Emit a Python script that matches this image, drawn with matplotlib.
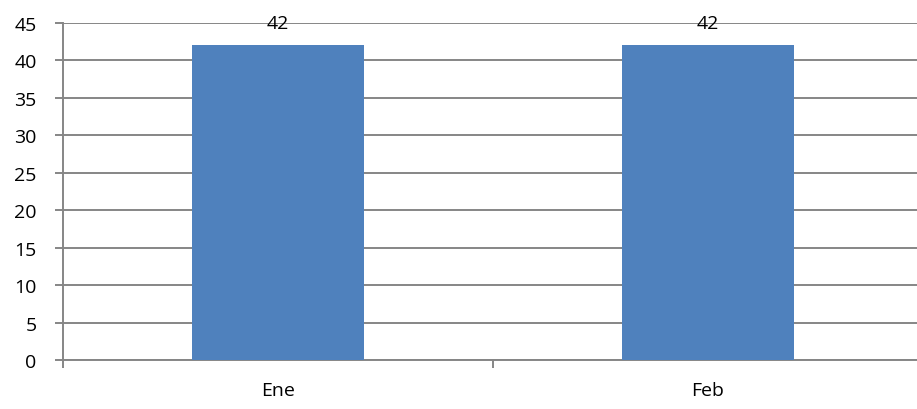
import matplotlib
matplotlib.use("Agg")
import matplotlib.pyplot as plt
from matplotlib.ticker import FixedLocator, MultipleLocator

categories = ["Ene", "Feb"]
values = [42, 42]
y_max = 45
y_step = 5

plt.rcParams['font.family'] = ['Open Sans', 'DejaVu Sans']

fig = plt.figure(figsize=(9.17, 4.10), dpi=100)
ax = fig.add_axes([63/917, 49/410, 860/917, 337/410])

x = list(range(len(categories)))
bars = ax.bar(x, values, width=0.4, color="#4F81BD", zorder=3)
for xi, v in zip(x, values):
    ax.annotate(f"{v}", (xi, v), xytext=(0, 10), textcoords="offset points",
                ha="center", va="bottom", fontsize=14, color="black", zorder=4)

ax.set_xlim(-0.5, len(categories) - 0.5)
ax.set_ylim(0, y_max)
ax.yaxis.set_major_locator(MultipleLocator(y_step))
ax.set_xticks(x)
ax.set_xticklabels(categories)
ax.xaxis.set_minor_locator(FixedLocator([i - 0.5 for i in range(len(categories) + 1)]))

grid_c = "#868686"
ax.grid(axis="y", color=grid_c, linewidth=1.4, zorder=1)
ax.set_axisbelow(True)
for s in ["top", "right"]:
    ax.spines[s].set_visible(False)
ax.spines["left"].set_color(grid_c)
ax.spines["bottom"].set_color(grid_c)
ax.spines["left"].set_linewidth(1.4)
ax.spines["bottom"].set_linewidth(1.4)

ax.tick_params(axis="x", which="major", length=0, pad=15, labelsize=14)
ax.tick_params(axis="x", which="minor", length=6, width=1.4, color=grid_c)
ax.tick_params(axis="y", which="major", length=6, width=1.4, color=grid_c, pad=13, labelsize=14)

fig.savefig("out.png", dpi=100, facecolor="white")
